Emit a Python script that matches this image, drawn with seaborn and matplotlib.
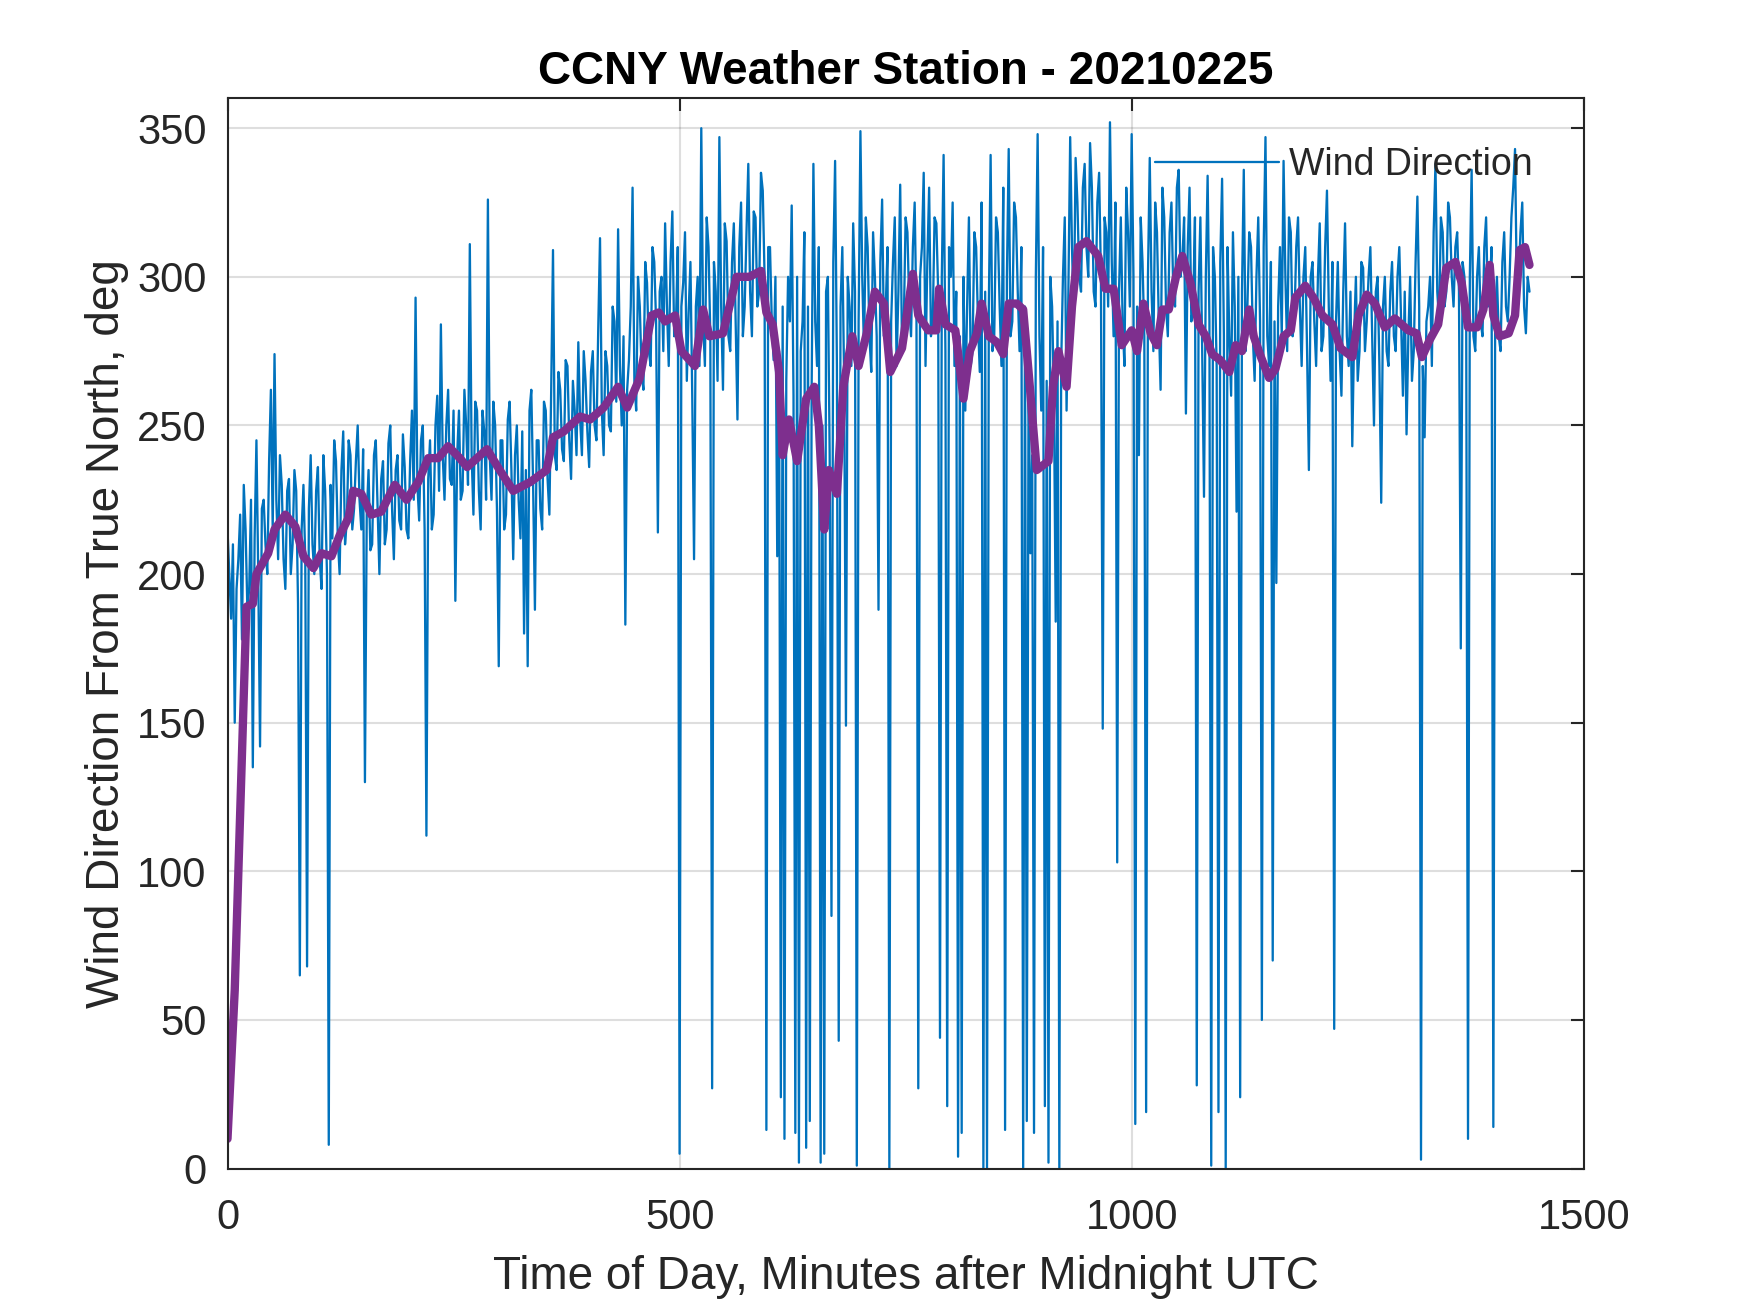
import numpy as np
import pandas as pd
import matplotlib
matplotlib.use("Agg")
import matplotlib.pyplot as plt
import seaborn as sns

# raw wind direction, read every 2 minutes (0 .. 1440)
wind_dir = [
    215, 200, 185, 210, 150, 195, 205, 220, 178, 230, 215, 188, 195, 225, 135, 212, 245, 200, 142, 222,
    225, 210, 200, 238, 262, 215, 274, 225, 205, 240, 230, 205, 195, 228, 232, 200, 210, 235, 228, 190,
    65, 215, 230, 205, 68, 222, 240, 210, 200, 228, 236, 205, 195, 240, 228, 200, 8, 230, 212, 245,
    238, 212, 200, 235, 248, 210, 218, 245, 240, 215, 222, 238, 250, 225, 215, 242, 130, 220, 235, 208,
    210, 240, 245, 222, 200, 232, 238, 210, 215, 244, 250, 222, 205, 235, 240, 218, 215, 247, 236, 215,
    212, 238, 255, 225, 293, 230, 218, 245, 250, 215, 112, 232, 245, 215, 220, 250, 260, 228, 284, 240,
    225, 250, 262, 232, 230, 255, 191, 240, 255, 225, 228, 262, 250, 230, 311, 240, 220, 258, 255, 228,
    215, 255, 248, 225, 326, 240, 225, 258, 250, 222, 169, 245, 245, 215, 220, 252, 258, 235, 205, 240,
    250, 225, 212, 248, 180, 235, 169, 255, 262, 230, 188, 245, 245, 222, 215, 258, 255, 232, 220, 262,
    309, 240, 235, 268, 262, 242, 238, 272, 270, 245, 232, 265, 255, 240, 278, 252, 240, 275, 265, 248,
    236, 268, 275, 250, 245, 282, 313, 255, 240, 275, 270, 250, 248, 290, 285, 258, 316, 270, 250, 280,
    183, 262, 272, 290, 330, 265, 255, 300, 290, 268, 262, 305, 298, 275, 270, 310, 305, 285, 214, 295,
    300, 275, 318, 290, 270, 305, 322, 280, 285, 310, 5, 290, 298, 315, 265, 288, 305, 260, 205, 290,
    300, 270, 350, 285, 270, 320, 310, 280, 27, 305, 295, 265, 347, 290, 262, 318, 312, 280, 275, 305,
    318, 285, 252, 310, 325, 280, 290, 315, 338, 295, 280, 322, 320, 290, 295, 335, 329, 300, 13, 310,
    310, 285, 272, 300, 206, 275, 24, 290, 10, 265, 300, 285, 324, 260, 12, 300, 2, 275, 285, 315,
    7, 290, 16, 260, 338, 285, 270, 310, 2, 250, 5, 295, 300, 240, 85, 305, 339, 270, 43, 290,
    310, 265, 149, 300, 290, 270, 318, 295, 1, 285, 349, 300, 275, 320, 310, 280, 268, 315, 300, 280,
    188, 305, 326, 280, 290, 310, 0, 285, 305, 320, 270, 295, 331, 275, 285, 320, 315, 290, 280, 310,
    325, 285, 27, 300, 310, 335, 270, 305, 330, 280, 285, 320, 318, 295, 44, 300, 341, 275, 21, 310,
    300, 325, 270, 295, 4, 280, 12, 300, 255, 290, 320, 270, 275, 315, 310, 285, 268, 325, 0, 295,
    0, 290, 341, 275, 280, 320, 315, 290, 270, 330, 13, 300, 343, 280, 285, 325, 320, 295, 275, 310,
    0, 290, 16, 270, 207, 240, 12, 300, 348, 280, 255, 310, 21, 265, 2, 300, 290, 260, 184, 285,
    0, 270, 300, 320, 255, 295, 347, 310, 285, 340, 325, 300, 295, 330, 338, 310, 300, 345, 330, 295,
    290, 325, 335, 300, 148, 320, 315, 290, 352, 305, 280, 325, 103, 295, 320, 285, 270, 330, 315, 290,
    348, 300, 15, 290, 240, 320, 305, 280, 19, 300, 340, 295, 275, 325, 315, 285, 262, 330, 320, 290,
    280, 315, 325, 295, 290, 330, 336, 300, 305, 320, 254, 310, 330, 285, 290, 320, 28, 295, 320, 275,
    226, 300, 334, 285, 1, 310, 300, 270, 19, 305, 333, 280, 0, 310, 280, 260, 315, 290, 221, 300,
    24, 295, 336, 275, 290, 315, 310, 280, 265, 300, 320, 285, 50, 310, 347, 280, 270, 305, 70, 285,
    197, 290, 310, 280, 339, 300, 275, 320, 315, 280, 285, 310, 320, 290, 270, 300, 310, 275, 235, 300,
    305, 285, 270, 300, 318, 275, 280, 310, 329, 290, 265, 305, 47, 285, 305, 275, 260, 295, 318, 280,
    270, 295, 243, 280, 300, 265, 275, 305, 303, 275, 285, 300, 310, 280, 250, 295, 300, 270, 224, 290,
    300, 275, 270, 295, 305, 280, 275, 300, 310, 285, 260, 295, 247, 280, 300, 265, 275, 305, 327, 290,
    3, 270, 246, 285, 290, 300, 270, 315, 338, 295, 285, 320, 315, 290, 295, 325, 320, 300, 290, 310,
    315, 295, 175, 305, 300, 285, 10, 300, 336, 280, 275, 300, 310, 285, 280, 310, 320, 290, 295, 310,
    14, 285, 300, 280, 275, 305, 315, 290, 285, 300, 320, 330, 343, 295, 300, 315, 325, 290, 281, 300,
    295,
]
wind_minutes = np.arange(0, 2 * len(wind_dir), 2)

# running average (purple)
avg_minutes = [
    0, 8, 21, 28, 32, 45, 52, 64, 75, 84, 95, 104, 115, 124, 134, 139, 148,
    159, 170, 185, 198, 211, 222, 233, 244, 257, 265, 287, 301, 316, 335,
    353, 360, 372, 390, 401, 416, 432, 442, 456, 469, 477, 484, 495, 502,
    517, 526, 533, 548, 563, 577, 590, 596, 603, 610, 614, 621, 630, 640,
    649, 654, 660, 665, 674, 681, 691, 698, 707, 716, 726, 733, 746, 758,
    764, 775, 784, 787, 794, 805, 814, 821, 829, 834, 842, 851, 858, 864,
    873, 880, 886, 895, 908, 913, 919, 928, 934, 941, 950, 963, 971, 980,
    989, 1000, 1006, 1013, 1021, 1028, 1034, 1041, 1049, 1056, 1065, 1074,
    1082, 1089, 1098, 1108, 1115, 1122, 1130, 1135, 1143, 1152, 1159, 1168,
    1176, 1181, 1192, 1201, 1211, 1222, 1231, 1244, 1251, 1260, 1269, 1280,
    1291, 1306, 1315, 1321, 1330, 1339, 1348, 1358, 1365, 1372, 1382, 1389,
    1396, 1400, 1407, 1417, 1424, 1429, 1435, 1440,
]
avg_values = [
    10, 60, 189, 190, 200, 207, 215, 220, 216, 206, 202, 207, 206, 213, 219,
    228, 227, 220, 221, 230, 225, 231, 239, 239, 243, 239, 236, 242, 235,
    228, 231, 235, 246, 248, 253, 252, 256, 263, 256, 266, 287, 288, 285,
    287, 275, 270, 289, 280, 281, 300, 300, 302, 288, 284, 268, 240, 252,
    238, 259, 263, 250, 215, 235, 227, 263, 280, 270, 281, 295, 291, 268,
    276, 301, 287, 282, 282, 296, 284, 282, 259, 275, 281, 291, 280, 278,
    274, 291, 291, 289, 268, 235, 238, 263, 275, 263, 290, 310, 312, 307,
    296, 296, 277, 282, 275, 291, 281, 277, 289, 289, 300, 307, 298, 284,
    280, 274, 272, 268, 277, 275, 289, 280, 273, 266, 269, 280, 282, 293,
    297, 293, 287, 284, 276, 273, 287, 294, 291, 283, 286, 282, 281, 273,
    279, 284, 303, 305, 298, 283, 283, 289, 304, 287, 280, 281, 287, 309,
    310, 304,
]

x_ticks = [0, 500, 1000, 1500]
y_ticks = [0, 50, 100, 150, 200, 250, 300, 350]

raw = pd.DataFrame({"minute": wind_minutes, "direction": wind_dir})
smooth = pd.DataFrame({"minute": avg_minutes, "direction": avg_values})

sns.set_style("white")
plt.rcParams["font.family"] = ["Liberation Sans", "DejaVu Sans"]

ink = "#262626"
fig = plt.figure(figsize=(1750 / 300, 1313 / 300), dpi=300)
ax = fig.add_axes([0.13, 0.11, 0.775, 0.815])

sns.lineplot(data=raw, x="minute", y="direction", ax=ax, color="#0072BD",
             linewidth=0.55, label="Wind Direction", sort=False)
sns.lineplot(data=smooth, x="minute", y="direction", ax=ax, color="#7E2F8E",
             linewidth=2.0, legend=False, sort=False)

ax.set_xlim(0, 1500)
ax.set_ylim(0, 360)
ax.set_xticks(x_ticks)
ax.set_yticks(y_ticks)
ax.grid(True, color=ink, alpha=0.15, linewidth=0.5)
ax.set_axisbelow(True)

for side in ax.spines.values():
    side.set_color(ink)
    side.set_linewidth(0.5)
ax.tick_params(direction="in", length=3.2, width=0.5, colors=ink,
               labelsize=10, top=True, right=True, pad=5)
ax.tick_params(axis="x", pad=7)

ax.set_xlabel("Time of Day, Minutes after Midnight UTC", fontsize=11,
              color=ink, labelpad=4.2)
ax.set_ylabel("Wind Direction From True North, deg", fontsize=11,
              color=ink, labelpad=2)
ax.set_title("CCNY Weather Station - 20210225", fontsize=11,
             fontweight="bold", color="black", pad=3.5)

ax.legend(loc="upper right", bbox_to_anchor=(0.962, 0.955), frameon=False,
          fontsize=9, handlelength=3.3, handletextpad=0.25, borderpad=0,
          borderaxespad=0)

plt.savefig("out.png", dpi=300)
plt.close()
